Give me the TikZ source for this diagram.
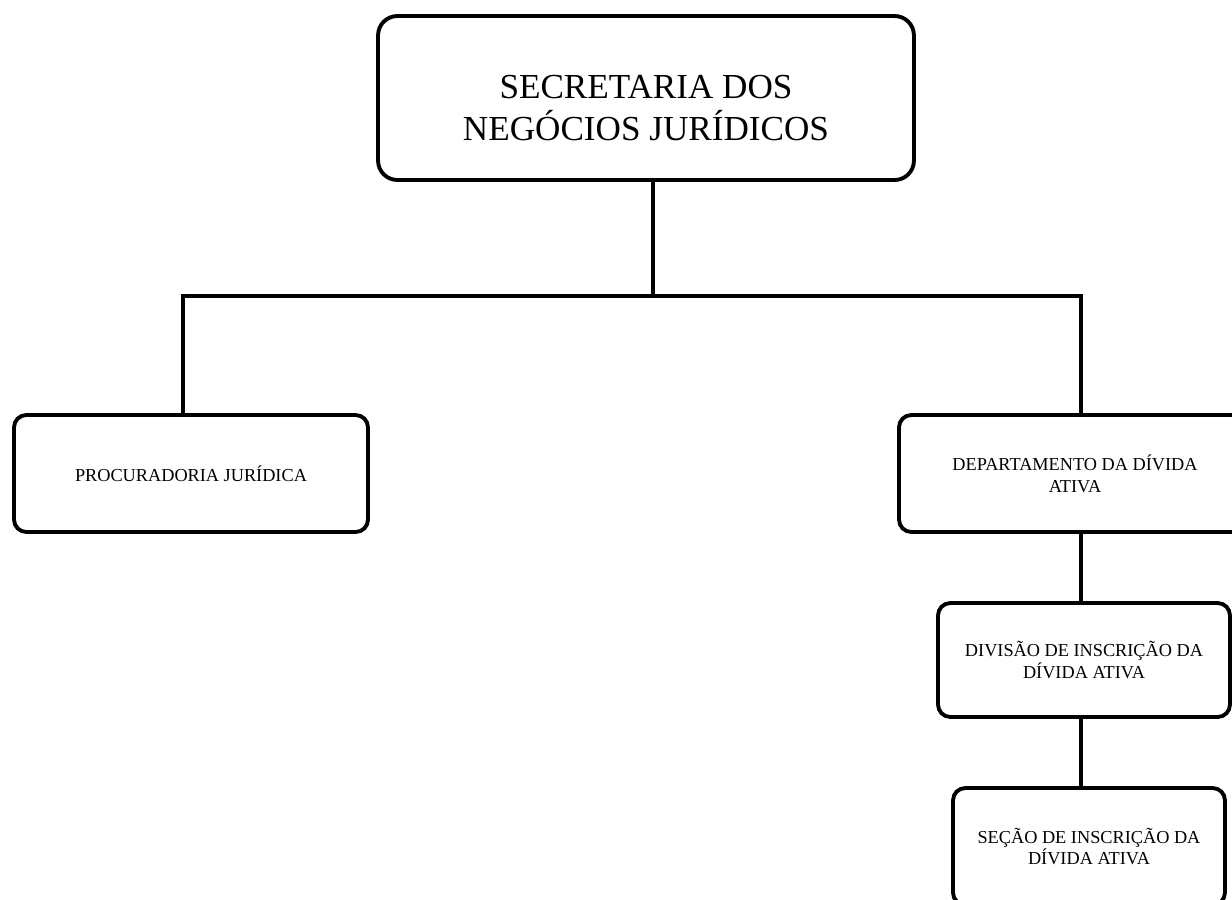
\documentclass[tikz,border=0pt]{standalone}
\usepackage{fontspec}
\setmainfont{Liberation Serif}
\usetikzlibrary{positioning}

\begin{document}
\begin{tikzpicture}[%
    x=0.02cm,
    y=-0.02cm,
    line width=2.2pt,
    unit/.style={%
      rectangle,
      rounded corners=7pt,
      draw,
      align=center,
      inner sep=0pt,
      font=\fontsize{10.4}{12.5}\selectfont
    },
    head/.style={%
      unit,
      rounded corners=11pt,
      text height=49pt,
      font=\fontsize{20}{24}\selectfont
    }
  ]
    \useasboundingbox (0,0) rectangle (1232,900);

    \node[head, minimum width=10.72cm, minimum height=3.28cm] (sec) at (646,98) {SECRETARIA DOS\\NEGÓCIOS JURÍDICOS};
    \node[unit, minimum width=7.08cm, minimum height=2.34cm] (proc) at (191,473.5) {PROCURADORIA JURÍDICA};
    \node[unit, minimum width=7.04cm, minimum height=2.34cm] (dep) at (1075,473.5) {DEPARTAMENTO DA DÍVIDA\\ATIVA};
    \node[unit, minimum width=5.84cm, minimum height=2.28cm] (div) at (1084,660) {DIVISÃO DE INSCRIÇÃO DA\\DÍVIDA ATIVA};
    \node[unit, minimum width=5.44cm, minimum height=2.34cm] (secao) at (1089,846.5) {SEÇÃO DE INSCRIÇÃO DA\\DÍVIDA ATIVA};

    \coordinate (split) at (653,296);
    \coordinate (left) at (183,296);
    \coordinate (right) at (1081,296);

    \draw (sec.south -| split) -- (split);
    \draw (proc.north -| left) -- (left) -- (right) -- (dep.north -| right);
    \draw (dep.south -| right) -- (div.north -| right);
    \draw (div.south -| right) -- (secao.north -| right);
  \end{tikzpicture}
\end{document}
